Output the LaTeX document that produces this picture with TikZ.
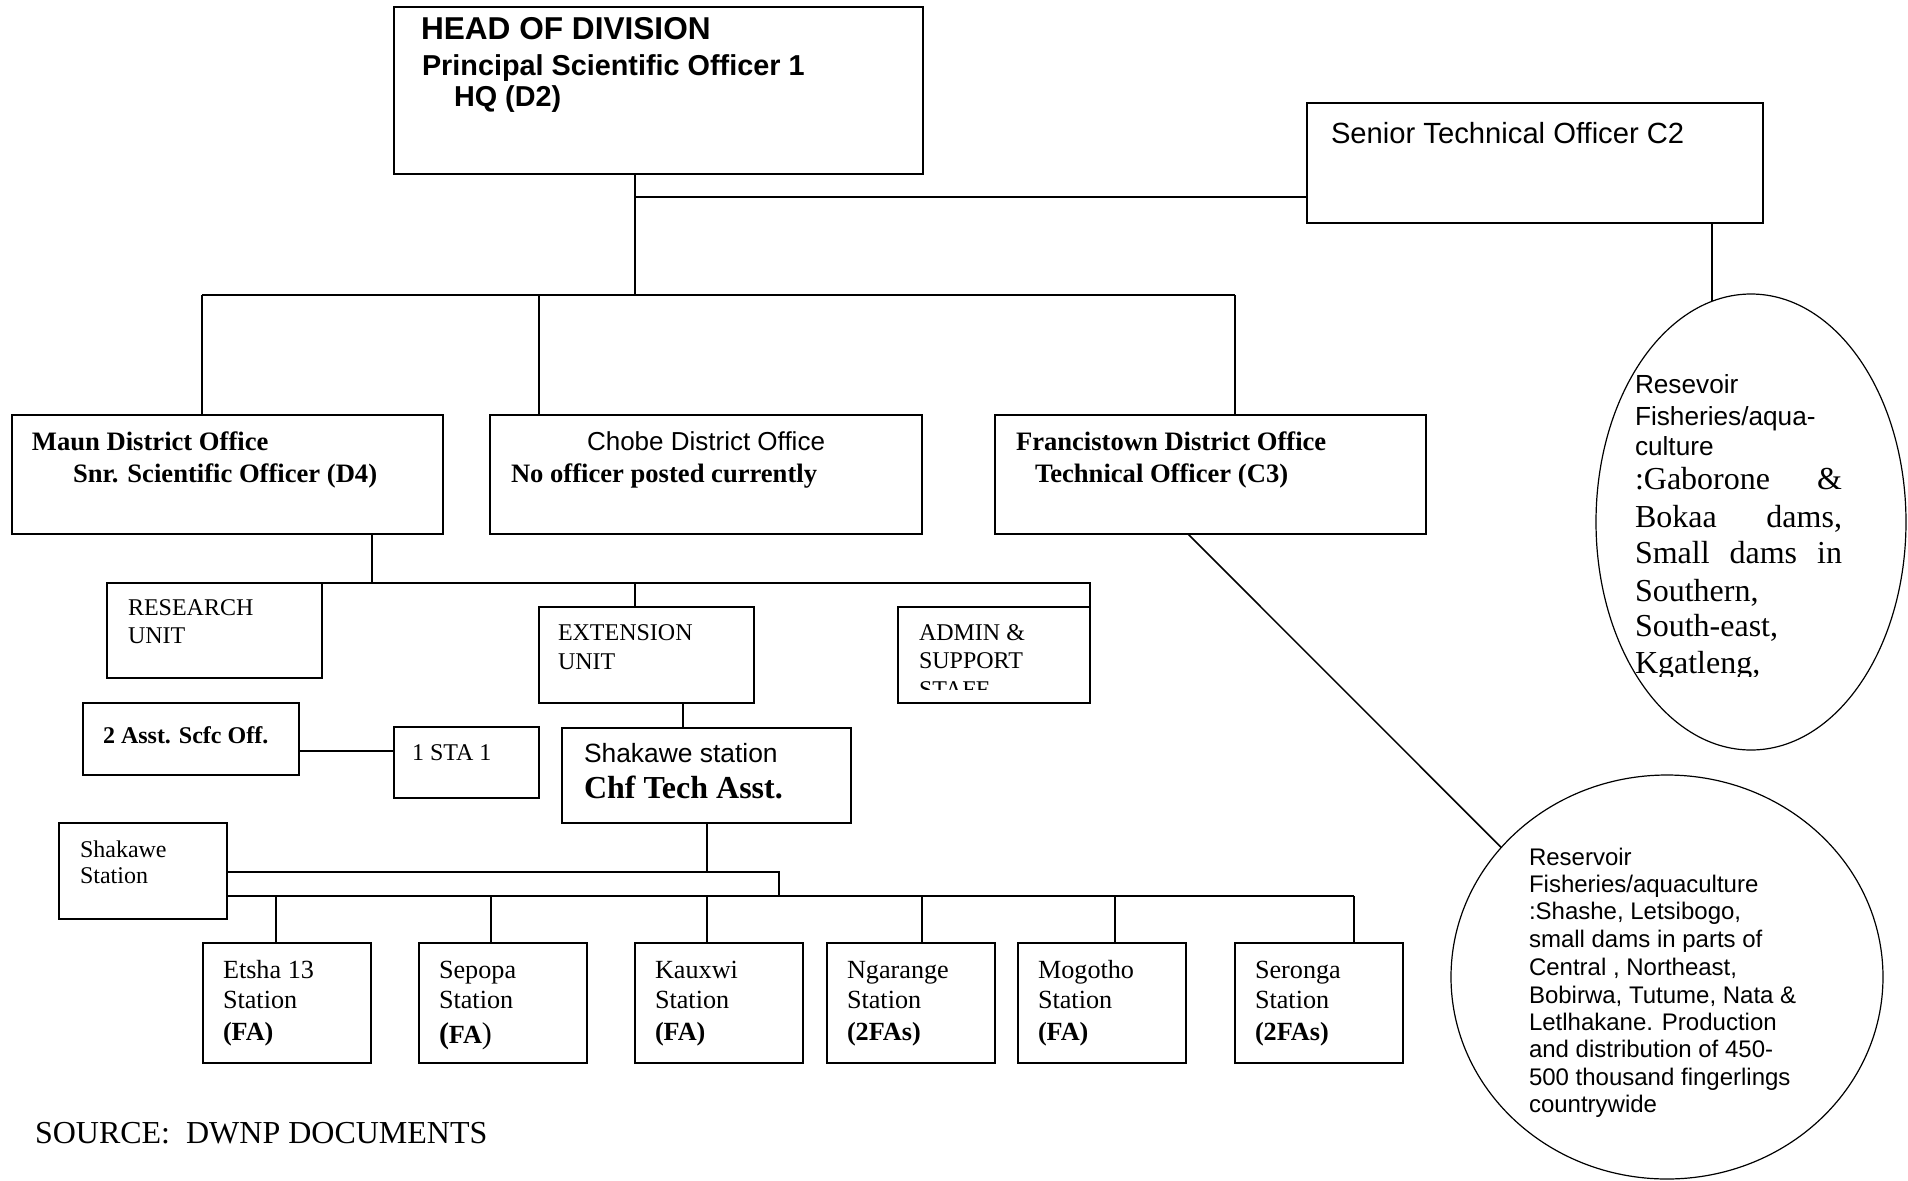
\documentclass[tikz,border=0pt]{standalone}
\usepackage{fontspec}
\setmainfont{Liberation Serif}
\newfontfamily\arialf{Liberation Sans}
\usetikzlibrary{shapes.geometric}
\newcommand\mkbox[5]{\node[box, minimum width={(#4-#2)*0.5pt}, minimum height={(#5-#3)*0.5pt}] (#1) at (#2,#3) {};}
\begin{document}
\begin{tikzpicture}[x=0.5pt,y=-0.5pt,
  box/.style={draw, line width=0.85pt, inner sep=0pt, outer sep=0pt, anchor=north west},
  conn/.style={line width=0.75pt},
  oval/.style={draw, ellipse, line width=0.6pt, inner sep=0pt, outer sep=0pt},
  txt/.style={anchor=base west, inner sep=0pt, outer sep=0pt},
  hodf/.style={font=\arialf\bfseries\fontsize{15.8}{18}\selectfont},
  hodg/.style={font=\arialf\bfseries\fontsize{14.4}{17}\selectfont},
  distb/.style={font=\bfseries\fontsize{13.3}{15}\selectfont},
  unitf/.style={font=\fontsize{12}{14}\selectfont},
  unitb/.style={font=\bfseries\fontsize{12}{14}\selectfont},
  statf/.style={font=\fontsize{13.1}{15}\selectfont},
  statb/.style={font=\bfseries\fontsize{13.1}{15}\selectfont},
  e1s/.style={font=\arialf\fontsize{13.1}{15}\selectfont},
  e1r/.style={font=\fontsize{16}{18}\selectfont},
  e2s/.style={font=\arialf\fontsize{12}{14}\selectfont},
]
\fill[white] (0,0) rectangle (1908,1180);
\useasboundingbox (0,0) rectangle (1908,1180);

% ---- top level
\mkbox{hod}{394}{7}{923}{174}
\node[txt, hodf] (hodt1) at (421,39) {HEAD OF DIVISION};
\node[txt, hodg] (hodt2) at (422,75) {Principal Scientific Officer 1};
\node[txt, hodg] (hodt3) at (454,106) {HQ (D2)};

\mkbox{sto}{1307}{103}{1763}{223}
\node[txt, font=\arialf\fontsize{14.6}{17}\selectfont] (stot) at (1331,143) {Senior Technical Officer C2};

\node[oval, minimum width=155pt, minimum height=228pt] (e1) at (1751,522) {};
\node[oval, minimum width=216pt, minimum height=202pt] (e2) at (1667,977) {};

% ---- district offices
\mkbox{maun}{12}{415}{443}{534}
\mkbox{chobe}{490}{415}{922}{534}
\mkbox{fran}{995}{415}{1426}{534}

\node[txt, distb] (maunt1) at (32,450) {Maun District Office};
\node[txt, distb] (maunt2) at (73,482) {Snr. Scientific Officer (D4)};
\node[anchor=base, inner sep=0pt, font=\arialf\fontsize{13}{15}\selectfont] (chobet1) at (706,450) {Chobe District Office};
\node[txt, distb] (chobet2) at (511,482) {No officer posted currently};
\node[txt, distb] (frant1) at (1016,450) {Francistown District Office};
\node[txt, distb] (frant2) at (1035,482) {Technical Officer (C3)};

% ---- top connectors
\coordinate (j0) at (635,295);
\coordinate (jsto) at (635,197);
\coordinate (barL) at (202,295);
\coordinate (barR) at (1235,295);
\coordinate (barC) at (539,295);
\draw[conn] (hod.south -| j0) -- (j0);
\draw[conn] (jsto) -- (sto.west |- jsto);
\draw[conn] (barL) -- (barR);
\draw[conn] (barL) -- (maun.north -| barL);
\draw[conn] (barC) -- (chobe.north -| barC);
\draw[conn] (barR) -- (fran.north -| barR);
\draw[conn] (sto.south -| e1.100) -- (e1.100);
\draw[conn] (fran.south -| 1188,0) -- (e2.142);

% ---- units
\mkbox{research}{107}{583}{322}{678}
\mkbox{ext}{539}{607}{754}{703}
\mkbox{admin}{898}{607}{1090}{703}
\coordinate (m1) at (372,583);
\coordinate (m2) at (635,583);
\draw[conn] (maun.south -| m1) -- (m1);
\draw[conn] (research.north east) -- (admin.north east |- m1) -- (admin.north east);
\draw[conn] (m2) -- (ext.north -| m2);

\node[txt, unitf] (rest1) at (128,615) {RESEARCH};
\node[txt, unitf] (rest2) at (128,643) {UNIT};
\node[txt, unitf] (extt1) at (558,640) {EXTENSION};
\node[txt, unitf] (extt2) at (558,669) {UNIT};
\begin{scope}
\clip (898,607) rectangle (1090,689);
\node[txt, unitf] (admt1) at (919,640) {ADMIN \&};
\node[txt, unitf] (admt2) at (919,668) {SUPPORT};
\node[txt, unitf] (admt3) at (919,697) {STAFF};
\end{scope}

% ---- officers
\mkbox{asst}{83}{703}{299}{775}
\mkbox{sta}{394}{727}{539}{798}
\mkbox{chf}{562}{728}{851}{823}
\node[txt, unitb] (asstt) at (103,743) {2 Asst. Scfc Off.};
\node[txt, unitf] (stat) at (412,760) {1 STA 1};
\node[txt, font=\arialf\fontsize{13.2}{15}\selectfont] (chft1) at (584,762) {Shakawe station};
\node[txt, font=\bfseries\fontsize{16}{18}\selectfont] (chft2) at (584,798) {Chf Tech Asst.};
\coordinate (a1) at (0,751);
\draw[conn] (asst.east |- a1) -- (sta.west |- a1);
\coordinate (x1) at (683,0);
\draw[conn] (ext.south -| x1) -- (chf.north -| x1);

% ---- stations
\mkbox{shak}{59}{823}{227}{919}
\node[txt, unitf] (shakt1) at (80,857) {Shakawe};
\node[txt, unitf] (shakt2) at (80,883) {Station};

\coordinate (u1) at (707,872);
\coordinate (u2) at (779,872);
\coordinate (l2) at (779,896);
\coordinate (l3) at (1354,896);
\draw[conn] (chf.south -| u1) -- (u1);
\draw[conn] (shak.east |- u1) -- (u2) -- (l2);
\draw[conn] (shak.east |- l2) -- (l3);

\foreach \bx/\vx/\nm/\ta/\tb in {203/276/etsha/Etsha 13/(FA), 635/707/kauxwi/Kauxwi/(FA), 827/922/ngarange/Ngarange/(2FAs), 1018/1115/mogotho/Mogotho/(FA), 1235/1354/seronga/Seronga/(2FAs)}{
  \mkbox{\nm}{\bx}{943}{\bx+168}{1063}
  \node[txt, statf] (\nm-1) at ({\bx+20},978) {\ta};
  \node[txt, statf] (\nm-2) at ({\bx+20},1008) {Station};
  \node[txt, statb] (\nm-3) at ({\bx+20},1040) {\tb};
  \draw[conn] (\vx,896) -- (\nm.north -| \vx,0);
}
\mkbox{sepopa}{419}{943}{587}{1063}
\node[txt, statf] (sepopa-1) at (439,978) {Sepopa};
\node[txt, statf] (sepopa-2) at (439,1008) {Station};
\node[txt, statb] (sepopa-3) at (439,1043) {{\fontsize{15}{15}\selectfont(}FA{\fontsize{15}{15}\selectfont\mdseries)}};
\draw[conn] (491,896) -- (sepopa.north -| 491,0);

% ---- ellipse texts
\node[txt, e1s] (e1a) at (1635,393) {Resevoir};
\node[txt, e1s] (e1b) at (1635,425) {Fisheries/aqua-};
\node[txt, e1s] (e1c) at (1635,455) {culture};
\node[txt, e1r] (e1d) at (1635,489) {\makebox[103.5pt][s]{:Gaborone \&}};
\node[txt, e1r] (e1e) at (1635,527) {\makebox[103.5pt][s]{Bokaa dams,}};
\node[txt, e1r] (e1f) at (1635,563) {\makebox[103.5pt][s]{Small dams in}};
\node[txt, e1r] (e1g) at (1635,601) {Southern,};
\node[txt, e1r] (e1h) at (1635,636) {South-east,};
\begin{scope}
\clip (1600,600) rectangle (1900,676);
\node[txt, e1r] (e1i) at (1635,673) {Kgatleng,};
\end{scope}

\node[txt, e2s] (e2a) at (1529,865) {Reservoir};
\node[txt, e2s] (e2b) at (1529,892) {Fisheries/aquaculture};
\node[txt, e2s] (e2c) at (1529,919) {:Shashe, Letsibogo,};
\node[txt, e2s] (e2d) at (1529,947) {small dams in parts of};
\node[txt, e2s] (e2e) at (1529,975) {Central , Northeast,};
\node[txt, e2s] (e2f) at (1529,1003) {Bobirwa, Tutume, Nata \&};
\node[txt, e2s] (e2g) at (1529,1030) {Letlhakane. Production};
\node[txt, e2s] (e2h) at (1529,1057) {and distribution of 450-};
\node[txt, e2s] (e2i) at (1529,1085) {500 thousand fingerlings};
\begin{scope}
\clip (1500,1060) rectangle (1850,1116);
\node[txt, e2s] (e2j) at (1529,1112) {countrywide};
\end{scope}

% ---- source
\node[txt, font=\fontsize{16}{18}\selectfont] (src) at (35,1143) {SOURCE:\hspace{0.5em}DWNP DOCUMENTS};
\end{tikzpicture}
\end{document}
